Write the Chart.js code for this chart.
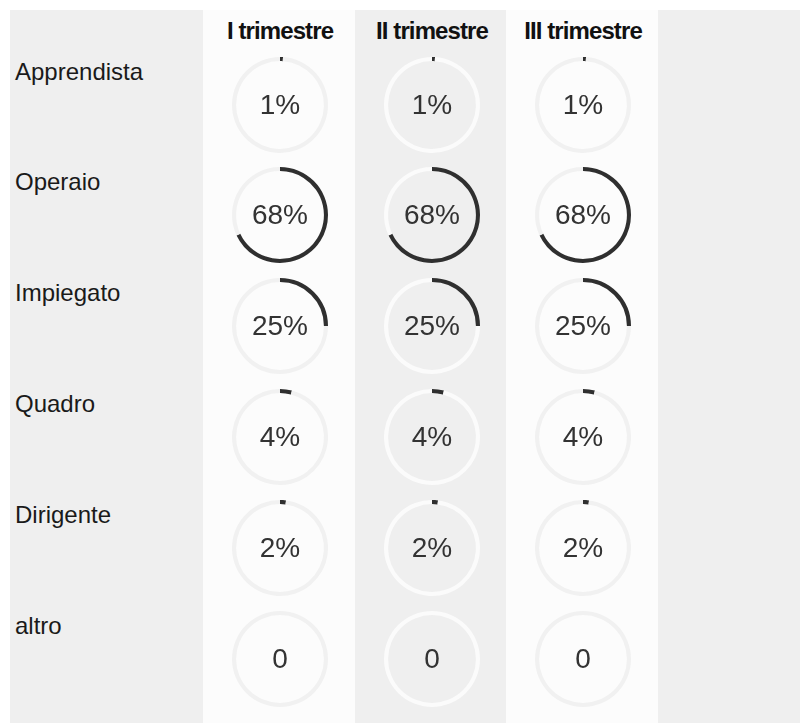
<!DOCTYPE html>
<html>
<head>
<meta charset="utf-8">
<script src="https://cdn.jsdelivr.net/npm/chart.js@4/dist/chart.umd.min.js"></script>
<style>
  body { margin: 0; background: #fff; font-family: "Liberation Sans", Arial, sans-serif; }
  #pagina { position: relative; width: 801px; height: 726px; overflow: hidden; }
  .fondo { position: absolute; top: 10px; height: 713px; }
  .titolo { position: absolute; top: 17px; width: 152px; text-align: center; font-weight: bold;
            font-size: 24px; letter-spacing: -0.9px; color: #111; }
  .voce { position: absolute; left: 15px; font-size: 24px; color: #1a1a1a; line-height: 28px; }
  canvas { position: absolute; }
</style>
</head>
<body>
<div id="pagina">
  <div class="fondo" style="left:10px;width:790px;background:#efefef"></div>
  <div class="fondo" style="left:203px;width:152px;background:#fcfcfc"></div>
  <div class="fondo" style="left:506px;width:152px;background:#fcfcfc"></div>
</div>
<script>
// dati
const categorie = ['Apprendista', 'Operaio', 'Impiegato', 'Quadro', 'Dirigente', 'altro'];
const trimestri = ['I trimestre', 'II trimestre', 'III trimestre'];
const valoriI = [1, 68, 25, 4, 2, 0];
const valoriII = [1, 68, 25, 4, 2, 0];
const valoriIII = [1, 68, 25, 4, 2, 0];
const serie = [valoriI, valoriII, valoriIII];

const centriX = [280, 432, 583];
const centriY = [105, 215, 326, 437, 548, 659];
const binario = ['#f1f1f1', '#fbfbfb', '#f1f1f1'];

const pagina = document.getElementById('pagina');

// testo al centro dell'anello
const testoCentro = {
  id: 'testoCentro',
  afterDraw(chart) {
    const ctx = chart.ctx;
    const a = chart.chartArea;
    ctx.save();
    ctx.fillStyle = '#333';
    ctx.font = '28px "Liberation Sans", Arial, sans-serif';
    ctx.textAlign = 'center';
    ctx.textBaseline = 'middle';
    ctx.fillText(chart.options.plugins.testoCentro.testo, (a.left + a.right) / 2, (a.top + a.bottom) / 2 + 1);
    ctx.restore();
  }
};

trimestri.forEach((t, c) => {
  const d = document.createElement('div');
  d.className = 'titolo';
  d.style.left = (centriX[c] - 76) + 'px';
  d.textContent = t;
  pagina.appendChild(d);
});

categorie.forEach((cat, r) => {
  const l = document.createElement('div');
  l.className = 'voce';
  l.style.top = (centriY[r] - 33 - 14) + 'px';
  l.textContent = cat;
  pagina.appendChild(l);

  serie.forEach((valori, c) => {
    const v = valori[r];
    const cv = document.createElement('canvas');
    cv.width = 120; cv.height = 120;
    cv.style.left = (centriX[c] - 60) + 'px';
    cv.style.top = (centriY[r] - 60) + 'px';
    pagina.appendChild(cv);
    new Chart(cv, {
      type: 'doughnut',
      data: {
        labels: [cat, ''],
        datasets: [{
          data: [v, 100 - v],
          backgroundColor: ['#2f2f2f', binario[c]],
          borderWidth: 0
        }]
      },
      options: {
        responsive: false,
        animation: false,
        radius: 48,
        cutout: '91.5%',
        plugins: {
          legend: { display: false },
          tooltip: { enabled: false },
          testoCentro: { testo: v > 0 ? v + '%' : '0' }
        }
      },
      plugins: [testoCentro]
    });
  });
});
</script>
</body>
</html>
